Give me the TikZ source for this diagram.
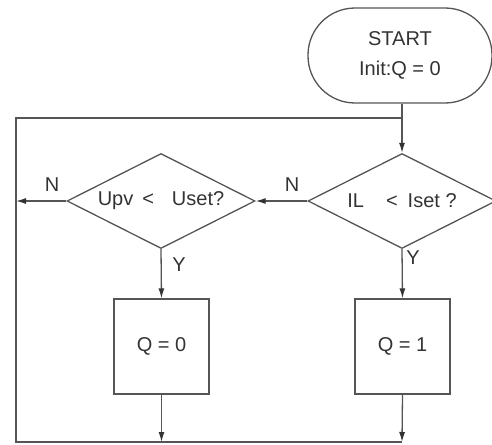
\documentclass[tikz,border=0pt]{standalone}
\usepackage{fontspec}
\setmainfont{Liberation Sans}
\usetikzlibrary{shapes.geometric,arrows.meta}
\definecolor{ln}{HTML}{555555}
\definecolor{tx}{HTML}{333333}
\begin{document}
\begin{tikzpicture}[x=1pt,y=-1pt,
  every node/.style={text=tx,font=\fontsize{20}{30}\selectfont},
  line/.style={draw=ln,line width=1.3pt},
  arr/.style={line,-{Latex[length=10pt,width=6pt,color=tx]}},
  term/.style={line,rectangle,rounded corners=47pt,minimum width=184pt,minimum height=95pt,align=center},
  dec/.style={line,diamond,aspect=2,inner sep=0pt,minimum width=188pt,minimum height=95pt},
  proc/.style={line,rectangle,minimum width=95pt,minimum height=95pt},
  lbl/.style={inner sep=0pt}]
\useasboundingbox (0,0) rectangle (492,444);
\node[term] (start) at (400,55.5) {START\\Init:Q = 0};
\node[dec] (d1) at (402,201) {IL\hspace{22pt}<\hspace{10pt}Iset ?};
\node[dec] (d2) at (161,201) {Upv\hspace{9pt}<\hspace{18pt}Uset?};
\node[proc] (b0) at (161.5,346.5) {Q = 0};
\node[proc] (b1) at (402.5,346.5) {Q = 1};
\coordinate (j) at (402,118);
\coordinate (lt) at (16,118);
\coordinate (lb) at (16,442);
\coordinate (rb) at (402,442);
\draw[line] (d1.north |- start.south) -- (j);
\draw[arr] (j) -- (d1.north);
\draw[line] (rb) -- (lb) -- (lt) -- (j);
\draw[arr] (d1.west) -- (d2.east);
\draw[arr] (d2.west) -- (lb |- d2.west);
\draw[arr] (d2.south) -- (b0.north);
\draw[arr] (d1.south) -- (b1.north);
\draw[arr] (b0.south) -- (b0.south |- lb);
\draw[arr] (b1.south) -- (rb);
\node[lbl] (n1) at (292,185) {N};
\node[lbl] (n2) at (52,185) {N};
\node[lbl] (y2) at (179,265) {Y};
\node[lbl] (y1) at (413,258) {Y};
\end{tikzpicture}
\end{document}
